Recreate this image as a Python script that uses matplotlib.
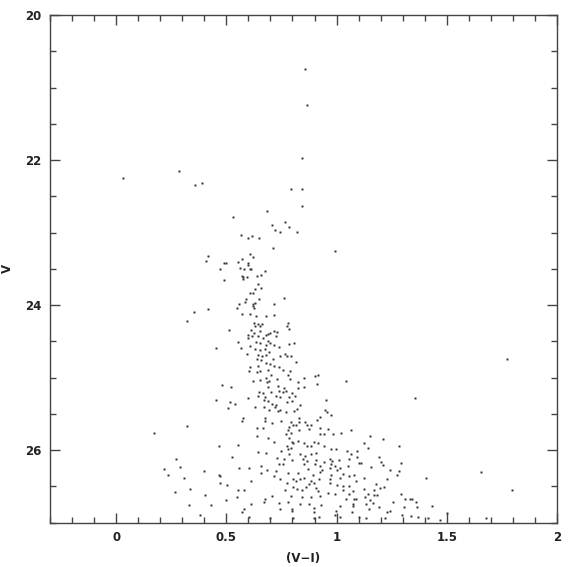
import matplotlib
matplotlib.use("Agg")
import matplotlib.pyplot as plt
from matplotlib.ticker import MultipleLocator

# (V-I) colour and V magnitude, listed in order of V
vi_color = [
    0.856, 0.865, 0.844, 0.033, 0.283, 0.359, 0.388, 0.792, 0.844, 0.844,
    0.684, 0.529, 0.766, 0.708, 0.719, 0.742, 0.784, 0.819, 0.565, 0.599,
    0.617, 0.650, 0.710, 0.992, 0.415, 0.409, 0.609, 0.620, 0.571, 0.490,
    0.499, 0.553, 0.599, 0.599, 0.614, 0.560, 0.579, 0.606, 0.471, 0.674,
    0.571, 0.574, 0.592, 0.577, 0.641, 0.658, 0.490, 0.644, 0.656, 0.632,
    0.606, 0.623, 0.760, 0.647, 0.591, 0.558, 0.583, 0.620, 0.632, 0.717,
    0.550, 0.620, 0.626, 0.351, 0.415, 0.320, 0.572, 0.608, 0.633, 0.681,
    0.716,
    0.626, 0.644, 0.660, 0.632, 0.653, 0.780, 0.773, 0.610, 0.514, 0.624,
    0.651, 0.679, 0.690, 0.697, 0.717, 0.729, 0.724, 0.786, 0.599, 0.618,
    0.642, 0.668, 0.553, 0.600, 0.636, 0.653, 0.688, 0.700, 0.714, 0.679,
    0.606, 0.785, 0.808, 0.455, 0.568, 0.629, 0.651, 0.674, 0.695, 0.738,
    0.592, 0.642, 0.664, 0.682, 0.744, 0.765, 0.774, 0.792, 0.640, 0.659,
    0.710, 0.815, 0.679, 0.700, 0.609, 0.645, 0.718, 0.740, 0.605, 0.638,
    0.653, 0.691, 0.759, 0.788, 0.703, 0.780, 0.621, 0.651, 0.679, 0.683,
    0.695, 0.730, 0.790, 0.824, 0.851, 0.900, 0.915, 0.909, 0.691, 0.733,
    0.762, 0.827, 0.850, 0.520, 0.480, 0.649, 0.667, 0.701, 0.738, 0.755,
    0.770, 0.800, 0.642, 0.674, 0.723, 0.742, 0.783, 0.812, 0.599, 0.455,
    0.670, 0.688, 0.705, 0.726, 0.774, 0.800, 0.950, 0.515, 0.538, 0.506,
    0.629, 0.671, 0.721, 0.742, 0.805, 0.821, 0.832, 0.949, 0.955, 0.695,
    0.733, 0.771, 0.574, 0.676, 0.829, 0.927, 0.976, 1.041, 1.355, 1.774,
    0.570, 0.674, 0.706, 0.750, 0.795, 0.830, 0.859, 0.865, 0.885, 0.909,
    0.640, 0.668, 0.786, 0.803, 0.817, 0.779, 0.829, 0.876, 0.923, 0.962,
    0.771, 0.794, 0.924, 0.942, 0.985, 1.021, 1.065, 0.641, 0.691, 0.714,
    0.782, 0.797, 0.803, 0.823, 0.899, 0.915, 0.853, 0.555, 0.776, 0.780,
    0.795, 0.865, 0.885, 0.941, 0.973, 0.999, 1.094, 0.644, 0.679, 0.749,
    0.782, 0.836, 0.856, 0.886, 0.905, 1.049, 1.067, 0.527, 0.729, 0.760,
    0.797, 0.849, 0.868, 0.906, 0.945, 0.968, 0.980, 1.009, 1.055, 1.092,
    0.659, 0.741, 0.756, 0.850, 0.901, 0.923, 0.973, 0.994, 1.053, 0.559,
    0.601, 0.683, 0.723, 0.871, 0.935, 0.971, 1.001, 1.014, 0.656, 0.780,
    0.824, 0.895, 0.923, 0.973, 1.029, 1.055, 0.715, 0.742, 0.801, 0.835,
    0.851, 0.883, 0.920, 0.971, 1.015, 0.612, 0.777, 0.817, 0.874, 0.897,
    0.970, 0.801, 0.821, 0.842, 0.860, 0.905, 1.003, 1.030, 1.055, 0.551,
    0.579, 0.764, 0.914, 1.029, 0.962, 0.995, 1.056, 0.674, 0.705, 0.794,
    0.842, 0.883, 0.926, 1.042, 1.090, 0.610, 0.673, 0.741, 0.780, 0.832,
    0.873, 0.930, 1.014, 1.074, 0.579, 0.744, 0.799, 0.897, 0.999, 0.571,
    0.799, 0.899, 0.994, 1.070, 0.605, 0.700, 0.801, 0.897, 0.920, 1.014,
    1.151, 1.210, 1.126, 1.144, 1.285, 1.194, 1.201, 1.212, 1.101, 1.112,
    1.291, 1.156, 1.244, 1.282, 1.276, 1.080, 1.124, 1.230, 1.406, 1.088,
    1.179, 1.195, 1.217, 1.168, 1.124, 1.074, 1.141, 1.170, 1.185, 1.291,
    1.127, 1.150, 1.079, 1.312, 1.333, 1.344, 1.135, 1.165, 1.192, 1.255,
    1.359, 1.076, 1.147, 1.230, 1.242, 1.305, 1.364, 1.435, 1.101, 1.132,
    1.218, 1.299, 1.336, 1.370, 1.417, 1.499,
    0.320, 0.170, 0.467, 0.273, 0.215, 0.292, 0.235, 0.309, 0.400, 0.467,
    0.473, 0.470, 0.501, 0.268, 0.333, 0.401, 0.547, 0.497, 0.332, 0.430,
    0.380, 1.655, 1.797, 1.676, 1.468,
]

v_mag = [
    20.74, 21.24, 21.97, 22.25, 22.15, 22.34, 22.32, 22.40, 22.40, 22.63,
    22.70, 22.78, 22.85, 22.90, 22.97, 22.99, 22.93, 22.99, 23.04, 23.08,
    23.05, 23.08, 23.22, 23.25, 23.33, 23.39, 23.30, 23.34, 23.36, 23.42,
    23.42, 23.41, 23.42, 23.45, 23.50, 23.49, 23.51, 23.51, 23.51, 23.53,
    23.60, 23.62, 23.62, 23.64, 23.60, 23.59, 23.65, 23.71, 23.77, 23.78,
    23.83, 23.84, 23.90, 23.92, 23.92, 23.99, 23.96, 23.99, 23.97, 23.98,
    24.04, 24.01, 24.04, 24.09, 24.06, 24.22, 24.13, 24.13, 24.15, 24.15,
    24.14,
    24.25, 24.26, 24.26, 24.29, 24.29, 24.25, 24.29, 24.34, 24.34, 24.38,
    24.36, 24.41, 24.40, 24.39, 24.36, 24.37, 24.43, 24.33, 24.42, 24.43,
    24.43, 24.46, 24.51, 24.46, 24.51, 24.52, 24.50, 24.52, 24.55, 24.55,
    24.56, 24.54, 24.53, 24.59, 24.59, 24.60, 24.62, 24.61, 24.65, 24.58,
    24.68, 24.69, 24.70, 24.69, 24.70, 24.67, 24.71, 24.71, 24.75, 24.76,
    24.74, 24.78, 24.80, 24.81, 24.86, 24.84, 24.84, 24.86, 24.91, 24.92,
    24.91, 24.90, 24.90, 24.91, 24.96, 24.96, 25.05, 25.04, 25.01, 25.06,
    25.05, 25.02, 25.02, 25.06, 25.01, 24.98, 24.97, 25.09, 25.13, 25.12,
    25.15, 25.15, 25.13, 25.13, 25.11, 25.20, 25.21, 25.20, 25.19, 25.20,
    25.19, 25.21, 25.26, 25.27, 25.26, 25.27, 25.27, 25.26, 25.28, 25.31,
    25.31, 25.32, 25.37, 25.38, 25.34, 25.33, 25.31, 25.34, 25.37, 25.42,
    25.40, 25.41, 25.41, 25.45, 25.46, 25.43, 25.38, 25.45, 25.47, 25.45,
    25.46, 25.48, 25.56, 25.56, 25.56, 25.54, 25.52, 25.05, 25.28, 24.75,
    25.60, 25.60, 25.63, 25.60, 25.61, 25.61, 25.61, 25.65, 25.65, 25.58,
    25.70, 25.69, 25.68, 25.65, 25.66, 25.73, 25.72, 25.71, 25.70, 25.71,
    25.78, 25.76, 25.78, 25.78, 25.78, 25.77, 25.72, 25.81, 25.84, 25.89,
    25.84, 25.89, 25.91, 25.87, 25.89, 25.91, 25.91, 25.93, 25.94, 25.99,
    25.97, 25.95, 25.95, 25.95, 25.99, 25.99, 26.02, 26.03, 26.04, 26.01,
    26.05, 26.06, 26.08, 26.06, 26.04, 26.02, 26.06, 26.10, 26.11, 26.13,
    26.14, 26.13, 26.15, 26.14, 26.17, 26.12, 26.15, 26.14, 26.12, 26.10,
    26.22, 26.19, 26.19, 26.19, 26.19, 26.22, 26.19, 26.22, 26.22, 26.25,
    26.25, 26.28, 26.29, 26.26, 26.28, 26.25, 26.28, 26.25, 26.32, 26.32,
    26.32, 26.34, 26.31, 26.34, 26.33, 26.36, 26.36, 26.40, 26.40, 26.40,
    26.38, 26.43, 26.40, 26.40, 26.39, 26.43, 26.45, 26.43, 26.47, 26.45,
    26.46, 26.51, 26.54, 26.55, 26.51, 26.52, 26.48, 26.50, 26.50, 26.55,
    26.55, 26.55, 26.56, 26.55, 26.59, 26.61, 26.60, 26.67, 26.63, 26.63,
    26.65, 26.65, 26.64, 26.67, 26.67, 26.74, 26.72, 26.73, 26.72, 26.74,
    26.74, 26.76, 26.77, 26.75, 26.81, 26.81, 26.81, 26.80, 26.84, 26.86,
    26.84, 26.85, 26.89, 26.86, 26.93, 26.94, 26.94, 26.94, 26.92, 26.93,
    25.81, 25.85, 25.91, 25.97, 25.94, 26.09, 26.17, 26.20, 26.18, 26.18,
    26.18, 26.23, 26.28, 26.29, 26.34, 26.35, 26.39, 26.40, 26.38, 26.43,
    26.47, 26.52, 26.51, 26.55, 26.54, 26.57, 26.60, 26.62, 26.62, 26.60,
    26.65, 26.69, 26.68, 26.68, 26.67, 26.67, 26.74, 26.73, 26.78, 26.72,
    26.72, 26.77, 26.82, 26.85, 26.84, 26.78, 26.78, 26.77, 26.93, 26.94,
    26.94, 26.90, 26.91, 26.92, 26.94, 26.87,
    25.67, 25.76, 25.94, 26.13, 26.26, 26.24, 26.35, 26.38, 26.29, 26.34,
    26.36, 26.46, 26.48, 26.58, 26.54, 26.62, 26.65, 26.69, 26.76, 26.76,
    26.89, 26.31, 26.55, 26.94, 26.97,
]

x_limits = (-0.3, 2.0)
y_limits = (27.0, 20.0)
x_major_ticks = [0, 0.5, 1, 1.5, 2]
x_tick_labels = ["0", "0.5", "1", "1.5", "2"]
y_major_ticks = [20, 22, 24, 26]
y_tick_labels = ["20", "22", "24", "26"]

fig = plt.figure(figsize=(5.70, 5.67), dpi=100)
ax = fig.add_axes([50 / 570, 1 - 522.5 / 567, 507 / 570, 507.5 / 567])

ax.plot(vi_color, v_mag, linestyle="none", marker="s", markersize=1.1,
        markerfacecolor="#333333", markeredgecolor="#555555", markeredgewidth=0.3)

ax.set_xlim(*x_limits)
ax.set_ylim(*y_limits)
ax.set_xticks(x_major_ticks)
ax.set_xticklabels(x_tick_labels)
ax.set_yticks(y_major_ticks)
ax.set_yticklabels(y_tick_labels)
ax.xaxis.set_minor_locator(MultipleLocator(0.1))
ax.yaxis.set_minor_locator(MultipleLocator(0.5))

ax.tick_params(which="both", direction="in", top=True, right=True,
               color="#444444", width=1.0)
ax.tick_params(which="major", length=7, labelsize=8.5, pad=6)
ax.tick_params(which="minor", length=4)
for lab in ax.get_xticklabels() + ax.get_yticklabels():
    lab.set_fontweight("bold")
    lab.set_color("#222222")
for sp in ax.spines.values():
    sp.set_linewidth(1.0)
    sp.set_color("#444444")

ax.set_xlabel("(V\u2212I)", fontsize=8.5, fontweight="bold", color="#222222", labelpad=6)
ax.set_ylabel("V", fontsize=8.5, fontweight="bold", color="#222222", labelpad=8)

fig.savefig("out.png", dpi=100)
